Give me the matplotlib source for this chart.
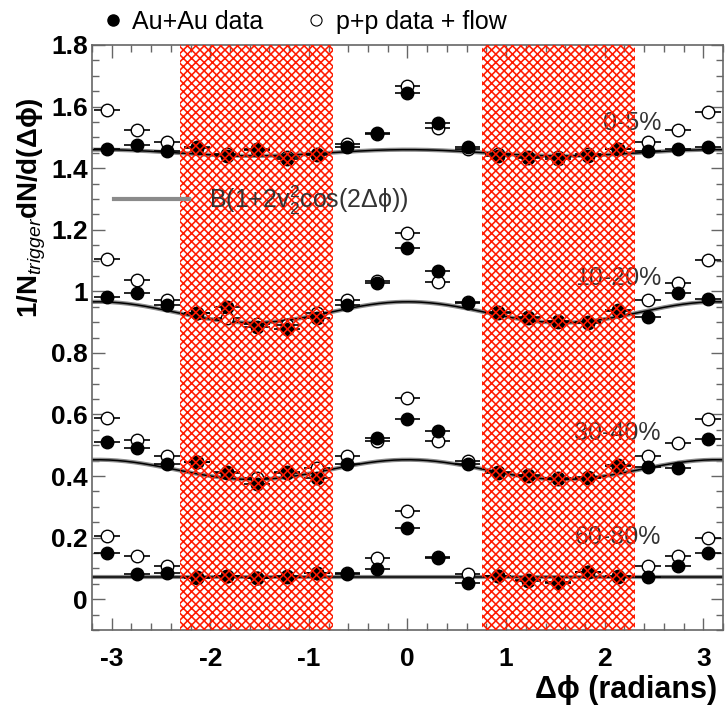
import numpy as np
import matplotlib
matplotlib.use('Agg')
import matplotlib.pyplot as plt
from matplotlib.lines import Line2D
from matplotlib.ticker import MultipleLocator

plt.rcParams['font.family'] = ['Liberation Sans', 'DejaVu Sans']
plt.rcParams['mathtext.fontset'] = 'custom'
plt.rcParams['mathtext.rm'] = 'Liberation Sans'
plt.rcParams['mathtext.it'] = 'Liberation Sans:italic'
plt.rcParams['mathtext.bf'] = 'Liberation Sans:bold'
plt.rcParams['axes.unicode_minus'] = False
plt.rcParams['hatch.linewidth'] = 1.15
plt.rcParams['hatch.color'] = '#ff1a00'

# bin centres in delta phi
dphi = [-3.05, -2.745, -2.44, -2.135, -1.83, -1.525, -1.22, -0.915, -0.61, -0.305, 0.0,
        0.305, 0.61, 0.915, 1.22, 1.525, 1.83, 2.135, 2.44, 2.745, 3.05]

centrality = ['0-5%', '10-20%', '30-40%', '60-80%']

auau_0_5 = [1.463, 1.476, 1.456, 1.469, 1.440, 1.463, 1.430, 1.443, 1.469, 1.515, 1.645,
            1.547, 1.469, 1.440, 1.433, 1.430, 1.440, 1.463, 1.456, 1.463, 1.469]
pp_0_5 = [1.590, 1.524, 1.485, 1.465, 1.445, 1.460, 1.435, 1.447, 1.478, 1.512, 1.668,
          1.531, 1.463, 1.445, 1.437, 1.435, 1.445, 1.462, 1.485, 1.524, 1.583]

auau_10_20 = [0.980, 0.993, 0.954, 0.928, 0.948, 0.883, 0.876, 0.912, 0.954, 1.026, 1.140,
              1.065, 0.961, 0.928, 0.912, 0.899, 0.896, 0.938, 0.915, 0.993, 0.974]
pp_10_20 = [1.104, 1.036, 0.971, 0.930, 0.912, 0.895, 0.890, 0.930, 0.971, 1.035, 1.189,
            1.030, 0.965, 0.932, 0.915, 0.902, 0.900, 0.935, 0.971, 1.026, 1.101]

auau_30_40 = [0.511, 0.492, 0.440, 0.446, 0.410, 0.375, 0.410, 0.394, 0.440, 0.525, 0.586,
              0.547, 0.440, 0.410, 0.401, 0.391, 0.394, 0.433, 0.430, 0.427, 0.521]
pp_30_40 = [0.590, 0.518, 0.466, 0.445, 0.412, 0.394, 0.412, 0.427, 0.466, 0.515, 0.655,
            0.515, 0.450, 0.412, 0.403, 0.393, 0.396, 0.435, 0.466, 0.508, 0.586]

auau_60_80 = [0.150, 0.081, 0.085, 0.068, 0.075, 0.068, 0.072, 0.085, 0.081, 0.098, 0.231,
              0.134, 0.052, 0.075, 0.059, 0.052, 0.088, 0.072, 0.072, 0.107, 0.150]
pp_60_80 = [0.205, 0.140, 0.107, 0.072, 0.076, 0.070, 0.074, 0.085, 0.085, 0.134, 0.287,
            0.137, 0.081, 0.076, 0.062, 0.055, 0.088, 0.074, 0.107, 0.140, 0.199]

auau = [auau_0_5, auau_10_20, auau_30_40, auau_60_80]
pp = [pp_0_5, pp_10_20, pp_30_40, pp_60_80]

# flow background B(1+2v2^2 cos(2 dphi))
B = [1.450, 0.932, 0.421, 0.073]
v2 = [0.059, 0.135, 0.195, 0.0]

label_y = [1.547, 1.042, 0.541, 0.202]

# normalization regions (shaded)
bands = [(-2.31, -0.76), (0.76, 2.31)]

fig = plt.figure(figsize=(7.26, 7.12), dpi=100)
ax = fig.add_axes([92/726, 82/712, 631/726, 585/712])

ylo, yhi = -0.1, 1.8
xlo, xhi = -3.2, 3.2

phi = np.linspace(xlo, xhi, 300)
for i in range(4):
    bg = B[i] * (1 + 2 * v2[i]**2 * np.cos(2 * phi))
    ax.plot(phi, bg, color='#8a8a8a', lw=3, zorder=2)
    ax.plot(phi, bg, color='black', lw=1.1, zorder=2.5)
    ax.errorbar(dphi, pp[i], xerr=0.13, fmt='o', ms=9, mfc='white', mec='black', mew=1,
                ecolor='black', elinewidth=1.2, capsize=0, zorder=3)
    ax.errorbar(dphi, auau[i], xerr=0.13, fmt='o', ms=9, mfc='black', mec='black',
                ecolor='black', elinewidth=1.2, capsize=0, zorder=4)
    ax.text(2.57, label_y[i], centrality[i], ha='right', va='center', fontsize=18,
            color='#333333', zorder=4.5)

# red cross-hatch over the normalization regions
for (b0, b1) in bands:
    ax.axvspan(b0, b1, facecolor='none', edgecolor='#ff1a00', hatch='xxxx',
               linewidth=0, zorder=6)

ax.set_xlim(xlo, xhi)
ax.set_ylim(ylo, yhi)

ax.xaxis.set_major_locator(MultipleLocator(1))
ax.xaxis.set_minor_locator(MultipleLocator(0.2))
ax.yaxis.set_minor_locator(MultipleLocator(0.05))
ax.set_yticks([0, 0.2, 0.4, 0.6, 0.8, 1.0, 1.2, 1.4, 1.6, 1.8])
ax.set_yticklabels(['0', '0.2', '0.4', '0.6', '0.8', '1', '1.2', '1.4', '1.6', '1.8'])
ax.tick_params(which='both', direction='in', top=True, right=True, color='#666666',
               width=1)
ax.tick_params(which='major', length=9)
ax.tick_params(which='minor', length=5)
ax.tick_params(axis='x', which='major', pad=12, labelsize=19)
ax.tick_params(axis='y', which='major', pad=3, labelsize=19)
for lab in ax.get_xticklabels() + ax.get_yticklabels():
    lab.set_fontweight('bold')
for sp in ax.spines.values():
    sp.set_color('#666666')
    sp.set_linewidth(1.2)

ax.text(-0.095, 0.91, r'1/N$_{trigger}$dN/d(Δϕ)', rotation=90, fontweight='bold',
        ha='center', va='top', fontsize=20, transform=ax.transAxes)
ax.text(0.99, -0.102, 'Δϕ (radians)', ha='right', va='center',
        fontsize=22, fontweight='bold', transform=ax.transAxes)

# legends
h1 = Line2D([], [], marker='o', ls='none', ms=8, mfc='black', mec='black')
h2 = Line2D([], [], marker='o', ls='none', ms=8, mfc='white', mec='black', mew=0.8)
fig.legend([h1, h2], ['Au+Au data', 'p+p data + flow'], loc='center left',
           bbox_to_anchor=(100/726, 1 - 22/712), ncol=2, frameon=False, fontsize=18,
           handlelength=1, handletextpad=0.3, columnspacing=1.6, borderpad=0,
           borderaxespad=0)

h3 = Line2D([], [], color='#8a8a8a', lw=3)
leg2 = ax.legend([h3], ['B(1+2v$_2^2$cos(2Δϕ))'], loc='center left',
                 bbox_to_anchor=(0.035, 0.735), frameon=False, fontsize=18,
                 handlelength=3.0, handletextpad=0.8, borderpad=0, borderaxespad=0,
                 labelcolor='#333333')
leg2.set_zorder(7)

fig.savefig('out.png', dpi=100)
